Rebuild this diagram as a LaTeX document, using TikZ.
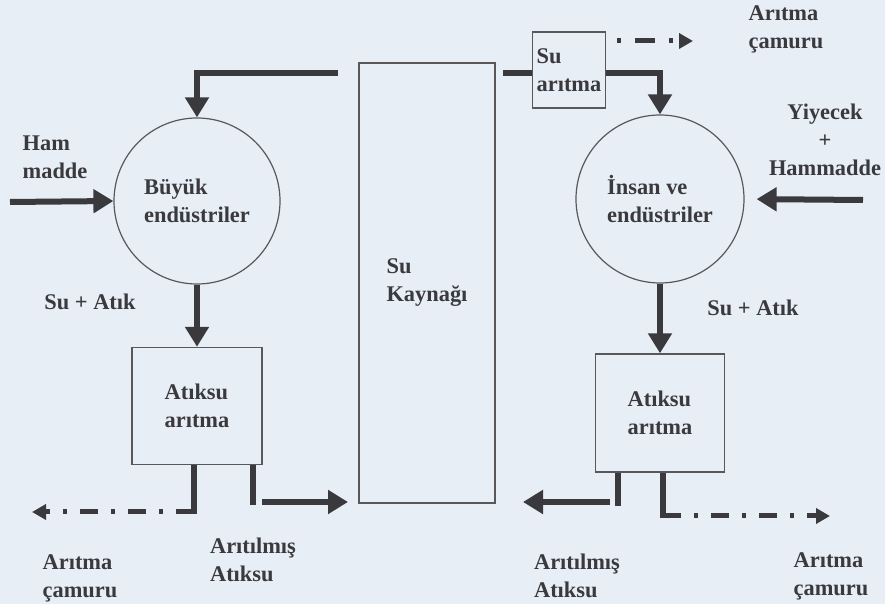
\documentclass[tikz,border=0pt]{standalone}
\usepackage{fontspec}
\setmainfont{Liberation Serif}
\usetikzlibrary{arrows.meta, calc}
\definecolor{paper}{RGB}{232,238,245}
\definecolor{ink}{RGB}{58,58,62}
\tikzstyle{box} = [rectangle, draw=ink!85, line width=0.7pt, align=left, text=ink, font=\bfseries\fontsize{11.2}{14}\selectfont]
\tikzstyle{plant} = [circle, draw=ink!85, line width=0.6pt, align=left, text=ink, font=\bfseries\fontsize{11.2}{14}\selectfont]
\tikzstyle{txt} = [align=left, text=ink, inner sep=0pt, font=\bfseries\fontsize{11.2}{14}\selectfont]
\tikzstyle{flow} = [draw=ink, line width=3pt, -{Triangle[width=11.5pt,length=10pt]}]
\tikzstyle{pipe} = [draw=ink, line width=2.6pt]
\tikzstyle{sludge} = [draw=ink, line width=2.5pt, dash pattern=on 9pt off 6.5pt on 2pt off 6.5pt, -{Triangle[width=7.5pt,length=7pt]}]

\begin{document}
\begin{tikzpicture}[x=0.5pt, y=-0.5pt, node distance=1cm]
\useasboundingbox[fill=paper] (0,0) rectangle (885,604);
% main blocks
\node (kaynak) [box, minimum width=68pt, minimum height=220pt] at (427,283) {Su\\Kaynağı};
\node (suart) [box, minimum width=36pt, minimum height=38pt, inner sep=2pt] at (569,70) {Su\\arıtma};
\node (buyuk) [plant, minimum size=83pt] at (197,201) {Büyük\\endüstriler};
\node (insan) [plant, minimum size=84pt] at (660,199) {İnsan ve\\endüstriler};
\node (atik1) [box, minimum width=65pt, minimum height=58.5pt, below of=buyuk, node distance=102.5pt] {Atıksu\\arıtma};
\node (atik2) [box, minimum width=64.5pt, minimum height=59pt, below of=insan, node distance=107pt] {Atıksu\\arıtma};
% labels
\node (ham) [txt] at (55,157) {Ham\\madde};
\node (yiyecek) [txt, align=center] at (825,140) {Yiyecek\\+\\Hammadde};
\node (camur0) [txt] at (786,29) {Arıtma\\çamuru};
\node (suatik1) [txt] at (90,302) {Su + Atık};
\node (suatik2) [txt] at (753,308) {Su + Atık};
\node (aritilmis1) [txt] at (253,560) {Arıtılmış\\Atıksu};
\node (camur1) [txt] at (80,578) {Arıtma\\çamuru};
\node (aritilmis2) [txt] at (577,576) {Arıtılmış\\Atıksu};
\node (camur2) [txt] at (831,576) {Arıtma\\çamuru};
% free ends
\coordinate (kl) at (338,73);
\coordinate (kr) at (503,73);
\coordinate (hamin) at (10,202);
\coordinate (yiyin) at (863,200);
\coordinate (t1) at (617,41);
\coordinate (t2) at (693,41);
\coordinate (c1) at (194,512);
\coordinate (c1end) at (32,512);
\coordinate (r1) at (253,505);
\coordinate (r1a) at (262,502);
\coordinate (r1b) at (348,502);
\coordinate (r2) at (618,506);
\coordinate (r2a) at (610,502);
\coordinate (r2b) at (523,502);
\coordinate (c2) at (663,516);
\coordinate (c2end) at (830,516);
% water lines
\draw [flow] (kl) -| (buyuk.north);
\draw [pipe] (kr) -- (kr -| suart.west);
\draw [flow] (suart.east |- kr) -| (insan.north);
\draw [sludge, dash pattern=on 2pt off 7pt on 10pt off 7pt] (t1) -- (t2);
\draw [flow] (hamin) -- (buyuk.west);
\draw [flow, shorten >=6pt] (yiyin) -- (insan.east);
\draw [flow] (buyuk.south) -- (buyuk.south |- atik1.north);
\draw [flow] (insan.south) -- (insan.south |- atik2.north);
% outlets
\draw [pipe] (c1 |- atik1.south) -- ([yshift=-1.2pt]c1);
\draw [sludge] (c1) -- (c1end);
\draw [pipe] (r1 |- atik1.south) -- (r1);
\draw [flow] (r1a) -- (r1b);
\draw [pipe] (r2 |- atik2.south) -- (r2);
\draw [flow] (r2a) -- (r2b);
\draw [pipe] (c2 |- atik2.south) -- ([yshift=-1.2pt]c2);
\draw [sludge] (c2) -- (c2end);
\end{tikzpicture}
\end{document}
